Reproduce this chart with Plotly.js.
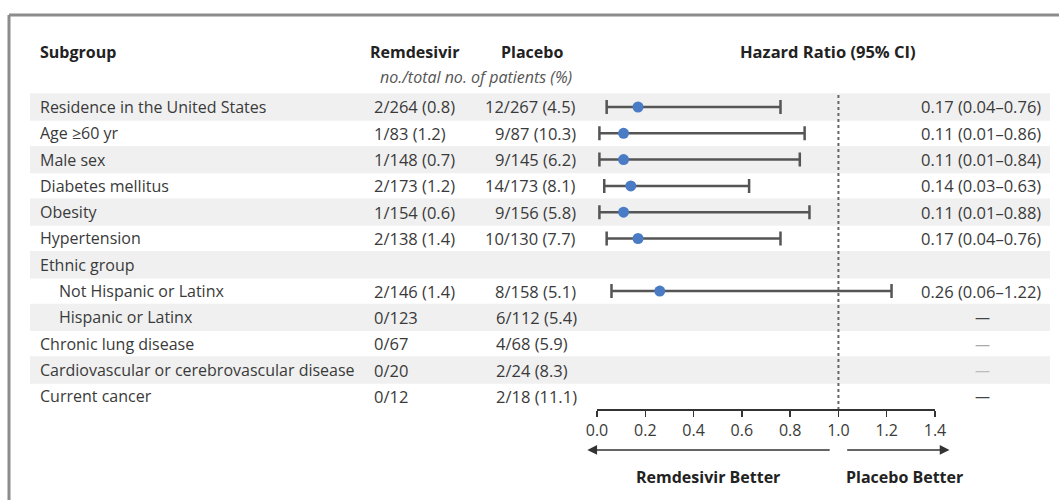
<!DOCTYPE html>
<html>
<head>
<meta charset="utf-8">
<script src="https://cdn.plot.ly/plotly-3.0.1.min.js"></script>
<style>html,body{margin:0;padding:0;background:#fff;}#chart{width:1059px;height:500px;}</style>
</head>
<body>
<div id="chart"></div>
<script>
// ---- data ----
const subgroups = ["Residence in the United States", "Age \u226560 yr", "Male sex", "Diabetes mellitus", "Obesity", "Hypertension", "Ethnic group", "Not Hispanic or Latinx", "Hispanic or Latinx", "Chronic lung disease", "Cardiovascular or cerebrovascular disease", "Current cancer"];
const levels = [0, 0, 0, 0, 0, 0, 0, 1, 1, 0, 0, 0];
const remdesivir = ["2/264 (0.8)", "1/83 (1.2)", "1/148 (0.7)", "2/173 (1.2)", "1/154 (0.6)", "2/138 (1.4)", "", "2/146 (1.4)", "0/123", "0/67", "0/20", "0/12"];
const placebo = ["12/267 (4.5)", "9/87 (10.3)", "9/145 (6.2)", "14/173 (8.1)", "9/156 (5.8)", "10/130 (7.7)", "", "8/158 (5.1)", "6/112 (5.4)", "4/68 (5.9)", "2/24 (8.3)", "2/18 (11.1)"];
const hr = [0.17, 0.11, 0.11, 0.14, 0.11, 0.17, null, 0.26, null, null, null, null];
const ciLow = [0.04, 0.01, 0.01, 0.03, 0.01, 0.04, null, 0.06, null, null, null, null];
const ciHigh = [0.76, 0.86, 0.84, 0.63, 0.88, 0.76, null, 1.22, null, null, null, null];
const tickValues = [0, 0.2, 0.4, 0.6, 0.8, 1.0, 1.2, 1.4];
const headers = {subgroup: "Subgroup", rem: "Remdesivir", pla: "Placebo", sub: "no./total no. of patients (%)", hr: "Hazard Ratio (95% CI)"};
const favourLabels = ["Remdesivir Better", "Placebo Better"];

// ---- layout helpers ----
const W = 1059, H = 500;
const px = v => v / W;
const FONT = "Open Sans, sans-serif";
const TXT = "#3a3a3a";
const BODY = 16.5;
const rows = subgroups.map((_, i) => i);
const shown = rows.filter(i => hr[i] !== null);
const dashColours = ["#444", "#aaa", "#bbb", "#444"];

const annotations = [];
const shapes = [];

// row bands
rows.forEach(i => {
  if (i % 2 === 0) shapes.push({type: "rect", layer: "below", xref: "paper", yref: "y",
    x0: px(30), x1: px(1050), y0: i - 0.52, y1: i + 0.52, fillcolor: "#f0f0f0", line: {width: 0}});
});
// frame
shapes.push({type: "line", xref: "paper", yref: "paper", x0: px(9), x1: 1, y0: 1 - 15 / H, y1: 1 - 15 / H, line: {color: "#8c8c8c", width: 3}});
shapes.push({type: "line", xref: "paper", yref: "paper", x0: px(9), x1: px(9), y0: 0, y1: 1 - 15 / H, line: {color: "#8c8c8c", width: 3}});
// reference line at HR = 1
shapes.push({type: "line", xref: "x", yref: "y", x0: 1, x1: 1, y0: -0.46, y1: 11.48, line: {color: "#666", width: 2, dash: "dot"}});

// headers
const hdr = (text, x, anchor, y, extra) => annotations.push(Object.assign({text: text, xref: "paper", yref: "paper", x: px(x), y: 1 - y / H,
  xanchor: anchor, yanchor: "middle", showarrow: false, font: {family: FONT, size: 16, color: "#222", weight: "bold"}}, extra || {}));
hdr(headers.subgroup, 38, "left", 52);
hdr(headers.rem, 414, "center", 52);
hdr(headers.pla, 532, "center", 52);
hdr(headers.hr, 828, "center", 52, {font: {family: FONT, size: 16.5, color: "#222", weight: "bold"}});
hdr(headers.sub, 476, "center", 77, {font: {family: FONT, size: 16, color: "#555", style: "italic"}});

// table columns
let dashIdx = 0;
rows.forEach(i => {
  const f = {family: FONT, size: BODY, color: TXT};
  annotations.push({text: subgroups[i], xref: "paper", yref: "y", x: px(levels[i] ? 57 : 38), y: i, xanchor: "left", yanchor: "middle", showarrow: false,
    font: {family: FONT, size: 16, color: TXT}});
  if (remdesivir[i]) annotations.push({text: remdesivir[i], xref: "paper", yref: "y", x: px(372), y: i, xanchor: "left", yanchor: "middle", showarrow: false, font: f});
  if (placebo[i]) {
    const right = hr[i] !== null;
    annotations.push({text: placebo[i], xref: "paper", yref: "y", x: px(right ? 578 : 494), y: i, xanchor: right ? "right" : "left", yanchor: "middle", showarrow: false, font: f});
  }
  if (hr[i] !== null) {
    annotations.push({text: hr[i].toFixed(2) + " (" + ciLow[i].toFixed(2) + "\u2013" + ciHigh[i].toFixed(2) + ")", xref: "paper", yref: "y", x: px(1043), y: i,
      xanchor: "right", yanchor: "middle", showarrow: false, font: f});
  } else if (placebo[i]) {
    annotations.push({text: "\u2014", xref: "paper", yref: "y", x: px(982), y: i, xanchor: "center", yanchor: "middle", showarrow: false,
      font: {family: FONT, size: 15, color: dashColours[dashIdx++ % dashColours.length]}});
  }
});

// direction arrows & labels
const arrowY = 13.04, labelY = 14.07;
annotations.push({x: -0.04, y: arrowY, ax: 0.97, ay: arrowY, xref: "x", yref: "y", axref: "x", ayref: "y", text: "", showarrow: true,
  arrowhead: 2, arrowsize: 1.3, arrowwidth: 1.5, arrowcolor: "#333"});
annotations.push({x: 1.46, y: arrowY, ax: 1.03, ay: arrowY, xref: "x", yref: "y", axref: "x", ayref: "y", text: "", showarrow: true,
  arrowhead: 2, arrowsize: 1.3, arrowwidth: 1.5, arrowcolor: "#333"});
annotations.push({text: favourLabels[0], x: 0.46, y: labelY, xref: "x", yref: "y", showarrow: false, xanchor: "center", yanchor: "middle",
  font: {family: FONT, size: 16, color: "#222", weight: "bold"}});
annotations.push({text: favourLabels[1], x: 1.275, y: labelY, xref: "x", yref: "y", showarrow: false, xanchor: "center", yanchor: "middle",
  font: {family: FONT, size: 16, color: "#222", weight: "bold"}});

const trace = {
  type: "scatter", mode: "markers",
  x: shown.map(i => hr[i]), y: shown,
  marker: {color: "#4a7cc5", size: 11},
  error_x: {type: "data", symmetric: false, array: shown.map(i => ciHigh[i] - hr[i]), arrayminus: shown.map(i => hr[i] - ciLow[i]),
    color: "#555", thickness: 2.5, width: 7},
  cliponaxis: false, hoverinfo: "skip"
};

const layout = {
  width: W, height: H, margin: {l: 0, r: 0, t: 0, b: 0},
  paper_bgcolor: "#fff", plot_bgcolor: "rgba(0,0,0,0)", showlegend: false,
  xaxis: {domain: [597 / W, 935 / W], range: [0, 1.4], anchor: "free", position: 1 - 409 / H,
    tickvals: tickValues, ticktext: tickValues.map(v => v.toFixed(1)), ticks: "outside", ticklen: 6, tickwidth: 1.5, tickcolor: "#333",
    showline: true, linecolor: "#333", linewidth: 1.5, showgrid: false, zeroline: false,
    tickfont: {family: FONT, size: 16, color: TXT}},
  yaxis: {domain: [0, 1], range: [14.943, -4.068], visible: false, showgrid: false, zeroline: false},
  shapes: shapes, annotations: annotations
};

Plotly.newPlot("chart", [trace], layout, {staticPlot: true, displayModeBar: false});
</script>
</body>
</html>
